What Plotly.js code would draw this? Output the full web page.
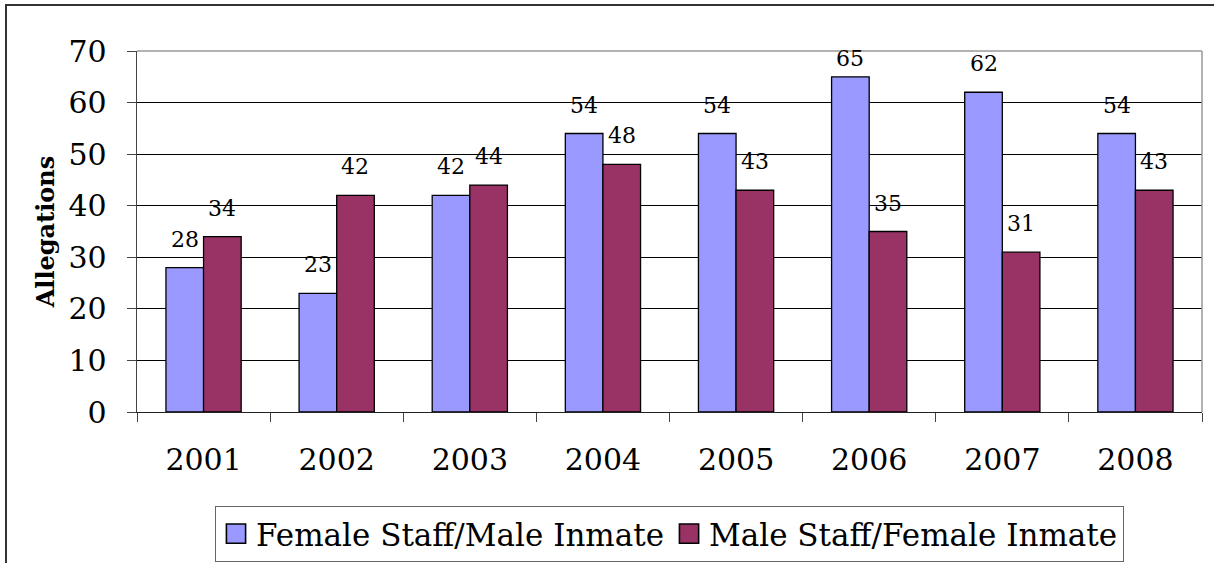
<!DOCTYPE html>
<html>
<head>
<meta charset="utf-8">
<script src="https://cdn.plot.ly/plotly-3.0.1.min.js"></script>
<style>
html,body{margin:0;padding:0;overflow:hidden;background:#fff;}
#wrap{position:relative;width:1214px;height:563px;overflow:hidden;}
#chart{position:absolute;left:0;top:0;width:1214px;height:563px;}
#frame{position:absolute;left:5px;top:4px;width:1300px;height:700px;border:2px solid #333;box-sizing:border-box;pointer-events:none;}
</style>
</head>
<body>
<div id="wrap"><div id="chart"></div><div id="frame"></div></div>
<script>
const years = ['2001','2002','2003','2004','2005','2006','2007','2008'];
const femaleStaffMaleInmate = [28, 23, 42, 54, 54, 65, 62, 54];
const maleStaffFemaleInmate = [34, 42, 44, 48, 43, 35, 31, 43];
const seriesNames = ['Female Staff/Male Inmate', 'Male Staff/Female Inmate'];
const yTicks = [0, 10, 20, 30, 40, 50, 60, 70];

const FONT = 'DejaVu Serif';
const W = 1214, H = 563;
const M = {l:137, r:12, t:51, b:151};
const yMax = 70;
const pxPerUnit = (H - M.t - M.b) / yMax;

const traces = [
  {type:'bar', name:seriesNames[0], x:years, y:femaleStaffMaleInmate,
   marker:{color:'#9999FF', line:{color:'#000', width:1.3}}},
  {type:'bar', name:seriesNames[1], x:years, y:maleStaffFemaleInmate,
   marker:{color:'#993366', line:{color:'#000', width:1.3}}}
];

// data labels above bars, kept inside the plot area like the original
const annotations = [];
const offs = [-18.8, 18.8];
[femaleStaffMaleInmate, maleStaffFemaleInmate].forEach((arr, si) => {
  arr.forEach((v, i) => {
    const room = (yMax - v) * pxPerUnit - 21.8;
    annotations.push({x:i, y:v, xref:'x', yref:'y', text:String(v),
      showarrow:false, xshift:offs[si], yshift:Math.min(14, room), yanchor:'bottom',
      font:{family:FONT, size:22, color:'#000'}});
  });
});

const layout = {
  width:W, height:H,
  margin:{l:M.l, r:M.r, t:M.t, b:M.b, pad:0},
  paper_bgcolor:'#fff', plot_bgcolor:'#fff',
  barmode:'group', bargap:0.435, bargroupgap:0,
  font:{family:FONT, color:'#000'},
  showlegend:true,
  legend:{orientation:'h', x:0.5, xanchor:'center', xref:'paper', y:(563-506)/563, yref:'container', yanchor:'top',
    bordercolor:'#666', borderwidth:1, font:{family:FONT, size:31, color:'#000'},
    traceorder:'normal'},
  xaxis:{type:'category', categoryorder:'array', categoryarray:years, range:[-0.5, years.length-0.5],
    ticks:'outside', ticklen:9, tickcolor:'#444', tickwidth:1, tickson:'boundaries', tickangle:0,
    showline:true, linecolor:'#222', linewidth:1.3, showgrid:false, ticklabelstandoff:21,
    tickfont:{family:FONT, size:30, color:'#000'}},
  yaxis:{range:[0,yMax], tickvals:yTicks, ticktext:yTicks.map(String), ticks:'outside', ticklen:9, tickcolor:'#444',
    showline:true, linecolor:'#444', linewidth:1.3, showgrid:true, gridcolor:'#000', gridwidth:1,
    zeroline:false, tickfont:{family:FONT, size:30, color:'#000'}, ticklabelstandoff:14,
    title:{text:'<b>Allegations</b>', font:{family:FONT, size:24, color:'#000'}, standoff:7}},
  shapes:[
    {type:'line', xref:'paper', yref:'paper', x0:0, x1:1, y0:1, y1:1, line:{color:'#999', width:1.5}, layer:'above'},
    {type:'line', xref:'paper', yref:'paper', x0:1, x1:1, y0:0, y1:1, line:{color:'#999', width:1.5}, layer:'above'}
  ],
  annotations:annotations
};

Plotly.newPlot('chart', traces, layout, {displayModeBar:false, staticPlot:true}).then(() => {
  document.querySelectorAll('#chart .legend .legendpoints path').forEach(p => {
    const t = p.getAttribute('transform') || '';
    p.setAttribute('transform', t + ' scale(1.6)');
    p.style.strokeWidth = '1px';
  });
});
</script>
</body>
</html>
